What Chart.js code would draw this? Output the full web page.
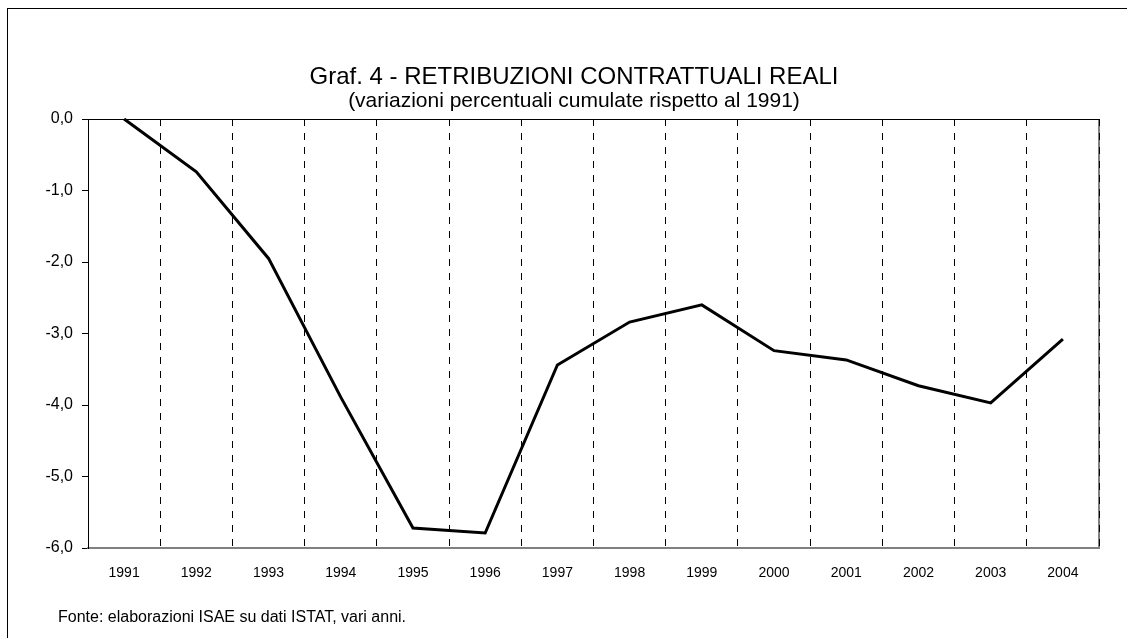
<!DOCTYPE html>
<html>
<head>
<meta charset="utf-8">
<script src="https://cdn.jsdelivr.net/npm/chart.js@4"></script>
<style>
html,body{margin:0;padding:0;background:#fff;width:1127px;height:638px;overflow:hidden;font-family:"Liberation Sans",Arial,sans-serif}
#frame{position:absolute;left:7px;top:8px;width:1200px;height:700px;border-left:1px solid #000;border-top:1px solid #000;box-sizing:border-box}
#c{position:absolute;left:0;top:0}
.t{position:absolute;color:#000;white-space:nowrap;line-height:1}
#title{left:0;width:1148px;text-align:center;top:64px;font-size:24px}
#sub{left:0;width:1148px;text-align:center;top:89px;font-size:21px}
#foot{left:58px;top:609px;font-size:16px}
</style>
</head>
<body>
<div id="frame"></div>
<canvas id="c" width="1127" height="638"></canvas>
<div class="t" id="title">Graf. 4 - RETRIBUZIONI CONTRATTUALI REALI</div>
<div class="t" id="sub">(variazioni percentuali cumulate rispetto al 1991)</div>
<div class="t" id="foot">Fonte: elaborazioni ISAE su dati ISTAT, vari anni.</div>
<script>
const years = ['1991','1992','1993','1994','1995','1996','1997','1998','1999','2000','2001','2002','2003','2004'];
const retribuzioni = [0.0, -0.74, -1.95, -3.89, -5.72, -5.79, -3.44, -2.84, -2.60, -3.24, -3.37, -3.73, -3.97, -3.08];
const yMin = -6, yMax = 0, yStep = 1;

const framePlugin = {
  id: 'framePlugin',
  beforeDraw(chart) {
    const {ctx, chartArea: a} = chart;
    ctx.save();
    ctx.strokeStyle = '#808080';
    ctx.lineWidth = 2;
    ctx.beginPath();
    ctx.moveTo(Math.round(a.right), a.top);
    ctx.lineTo(Math.round(a.right), a.bottom);
    ctx.stroke();
    ctx.strokeStyle = '#000';
    ctx.lineWidth = 1;
    ctx.beginPath();
    ctx.moveTo(a.left, Math.round(a.top) + 0.5);
    ctx.lineTo(a.right, Math.round(a.top) + 0.5);
    ctx.stroke();
    ctx.restore();
  }
};

new Chart(document.getElementById('c'), {
  type: 'line',
  data: {
    labels: years,
    datasets: [{
      data: retribuzioni,
      borderColor: '#000',
      borderWidth: 3,
      pointRadius: 0,
      tension: 0,
      fill: false,
      clip: 6
    }]
  },
  options: {
    responsive: false,
    animation: false,
    devicePixelRatio: 1,
    layout: {padding: {left: 0, right: 28, top: 119, bottom: 0}},
    plugins: {legend: {display: false}, tooltip: {enabled: false}, title: {display: false}},
    scales: {
      x: {
        offset: true,
        afterFit(s) { s.height = 90; },
        grid: {
          offset: true,
          drawTicks: false,
          lineWidth: 1,
          color: (c) => c.index === 0 ? 'rgba(0,0,0,0)' : '#000'
        },
        border: {display: true, color: '#808080', width: 2, dash: [7, 7]},
        ticks: {
          color: '#000',
          font: {family: '"Liberation Sans", Arial, sans-serif', size: 14},
          padding: 17,
          maxRotation: 0,
          autoSkip: false
        }
      },
      y: {
        min: yMin,
        max: yMax,
        afterFit(s) { s.width = 88; },
        grid: {drawOnChartArea: false, drawTicks: true, tickLength: 6, color: '#000'},
        border: {display: true, color: '#000', width: 1},
        ticks: {
          stepSize: yStep,
          color: '#000',
          padding: 9,
          font: {family: '"Liberation Sans", Arial, sans-serif', size: 16},
          callback: (v) => Number(v).toFixed(1).replace('.', ',')
        }
      }
    }
  },
  plugins: [framePlugin]
});
</script>
</body>
</html>
